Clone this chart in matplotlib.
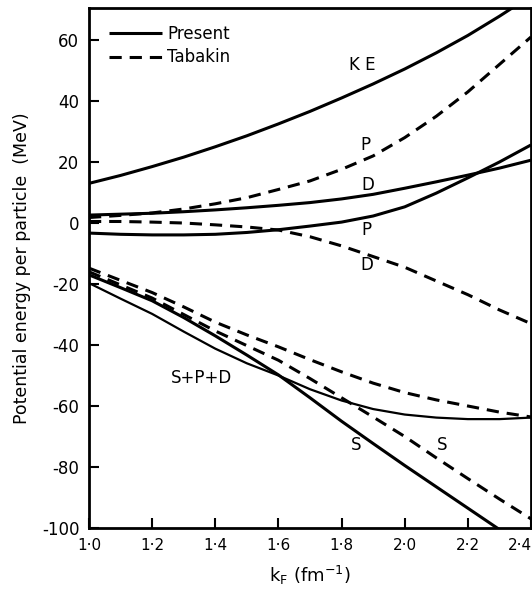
import matplotlib
matplotlib.use("Agg")
import matplotlib.pyplot as plt
import matplotlib.transforms as mtransforms

# ---------------- data ----------------
kF = [1.0, 1.1, 1.2, 1.3, 1.4, 1.5, 1.6, 1.7, 1.8, 1.9, 2.0, 2.1, 2.2, 2.3, 2.4]

ke = [13.0, 15.6, 18.5, 21.6, 25.0, 28.6, 32.5, 36.6, 41.0, 45.6, 50.5, 55.8, 61.5, 67.8, 74.5]

present_d = [2.6, 2.9, 3.2, 3.7, 4.3, 5.0, 5.8, 6.7, 7.9, 9.4, 11.4, 13.5, 15.7, 18.0, 20.6]
present_p = [-3.3, -3.7, -3.9, -3.9, -3.7, -3.1, -2.2, -1.0, 0.3, 2.3, 5.3, 9.8, 14.8, 20.0, 25.6]
present_spd = [-19.7, -24.8, -29.8, -35.6, -41.2, -46.0, -50.0, -54.5, -58.2, -61.0, -62.8, -63.8, -64.3, -64.3, -63.8]
present_s = [-17.0, -21.2, -25.5, -31.0, -37.0, -43.3, -49.8, -57.3, -65.0, -72.3, -79.5, -86.5, -93.5, -100.5, -107.5]

tabakin_p = [1.8, 2.5, 3.3, 4.6, 6.3, 8.3, 11.0, 13.8, 17.6, 22.0, 28.0, 35.0, 43.0, 52.0, 61.0]
tabakin_d = [0.5, 0.5, 0.3, 0.0, -0.6, -1.3, -2.3, -4.5, -7.5, -11.0, -14.5, -19.0, -23.5, -28.5, -33.0]
tabakin_spd = [-14.8, -18.8, -22.8, -27.5, -32.5, -36.7, -40.6, -44.8, -48.8, -52.5, -55.6, -58.0, -60.0, -62.0, -63.6]
tabakin_s = [-16.0, -20.3, -24.6, -30.0, -35.4, -40.2, -45.0, -51.0, -57.3, -63.6, -70.0, -77.0, -83.8, -90.5, -97.0]

xticks = [1.0, 1.2, 1.4, 1.6, 1.8, 2.0, 2.2, 2.4]
xticklabels = ["1\u00b70", "1\u00b72", "1\u00b74", "1\u00b76", "1\u00b78", "2\u00b70", "2\u00b72", "2\u00b74"]
yticks = [60, 40, 20, 0, -20, -40, -60, -80, -100]
yticklabels = ["60", "40", "20", "0", "-20", "-40", "-60", "-80", "-100"]

curve_labels = [
    ("K E", 1.866, 51.9),
    ("P", 1.877, 25.6),
    ("D", 1.883, 12.5),
    ("P", 1.880, -2.3),
    ("D", 1.880, -13.7),
    ("S+P+D", 1.357, -50.8),
    ("S", 1.845, -72.8),
    ("S", 2.120, -72.8),
]

# ---------------- figure ----------------
plt.rcParams["font.family"] = ["DejaVu Sans"]
fig = plt.figure(figsize=(5.32, 5.90), dpi=100)
ax = fig.add_axes([89 / 532, 1 - 528 / 590, 442 / 532, 520 / 590])

solid_kw = dict(color="black", lw=2.2, solid_capstyle="butt")
dash_kw = dict(color="black", lw=2.2, dashes=[4.0, 2.6])

ax.plot(kF, ke, **solid_kw)
ax.plot(kF, present_d, **solid_kw)
ax.plot(kF, present_p, **solid_kw)
ax.plot(kF, present_spd, color="black", lw=1.6)
ax.plot(kF, present_s, **solid_kw, label="Present")

ax.plot(kF, tabakin_p, **dash_kw, label="Tabakin")
ax.plot(kF, tabakin_d, **dash_kw)
ax.plot(kF, tabakin_spd, **dash_kw)
ax.plot(kF, tabakin_s, **dash_kw)

for txt, x, y in curve_labels:
    ax.text(x, y, txt, ha="center", va="center", fontsize=12)

ax.set_xlim(1.0, 2.4)
ax.set_ylim(-100, 70.5)
ax.set_xticks(xticks)
ax.set_xticklabels(xticklabels)
ax.set_yticks(yticks)
ax.set_yticklabels(yticklabels)
ax.tick_params(direction="in", length=7, width=1.5, labelsize=12, pad=7)
ax.tick_params(axis="x", labelsize=11)
for sp in ax.spines.values():
    sp.set_linewidth(2.0)

# keep the last x tick label inside the figure (as in the reference, it sits at the edge)
last = ax.get_xticklabels()[-1]
last.set_transform(last.get_transform() + mtransforms.ScaledTranslation(-11 / 100, 0, fig.dpi_scale_trans))

ax.set_ylabel("Potential energy per particle  (MeV)", fontsize=12.5, labelpad=8)
ax.set_xlabel(r"$\mathregular{k_F\ (fm^{-1})}$", fontsize=13, labelpad=8)

ax.legend(loc="upper left", bbox_to_anchor=(0.045, 0.968), frameon=False,
          fontsize=12, handlelength=3.2, handletextpad=0.3, labelspacing=0.35,
          borderpad=0, borderaxespad=0)

fig.savefig("out.png", dpi=100)
